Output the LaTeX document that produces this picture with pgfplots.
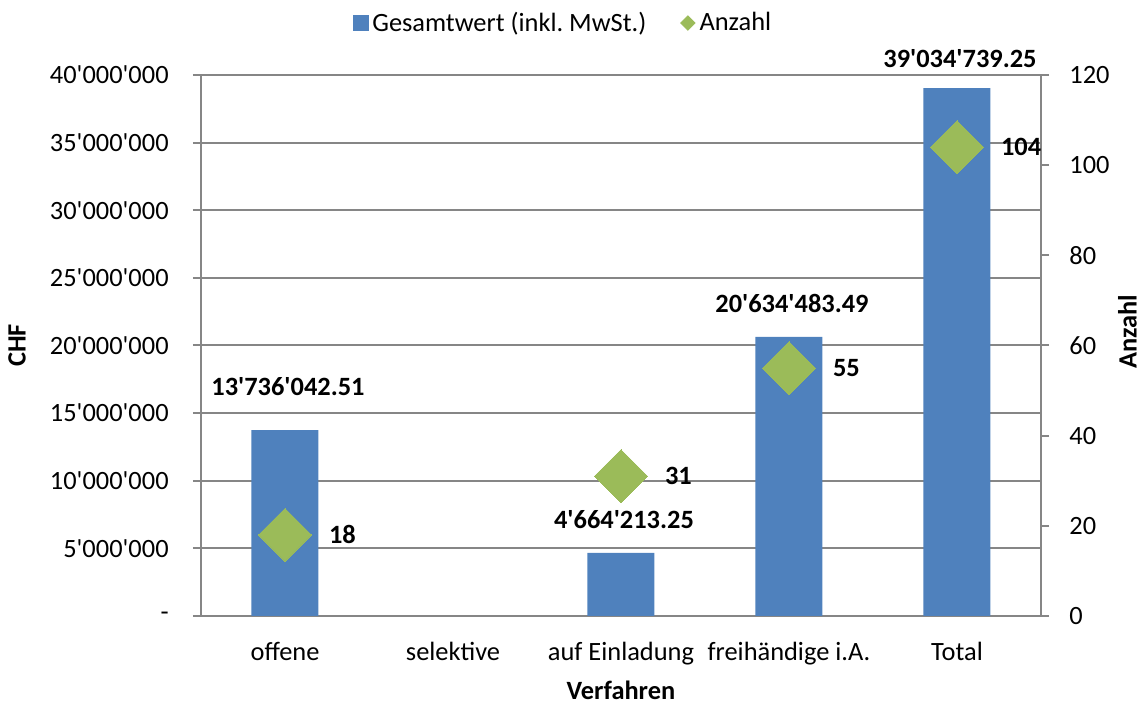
\documentclass[border=0pt]{standalone}
\usepackage{pgfplots}
\pgfplotsset{compat=1.18}
\usepackage{fontspec}
\setmainfont{Carlito}[Ligatures=TeXOff]
\definecolor{barblue}{HTML}{4F81BD}
\definecolor{dgreen}{HTML}{9BBB59}
\definecolor{axgray}{HTML}{868686}
\newcommand{\fs}{\fontsize{13.2}{15.5}\selectfont}
\frenchspacing
\begin{document}
\begin{tikzpicture}
\useasboundingbox (-100.5pt,-44pt) rectangle (473pt,308pt);
\begin{axis}[
  scale only axis, width=420pt, height=270.5pt,
  xmin=-0.5, xmax=4.5, ymin=0, ymax=40000000,
  axis x line*=bottom, axis y line*=left,
  axis line style={axgray, line width=1pt, -},
  xtick={0,1,2,3,4},
  xticklabels={offene,selektive,auf Einladung,freihändige i.A.,Total},
  xtick style={draw=none},
  xticklabel style={font=\fs, anchor=north, inner sep=0pt, yshift=-9pt},
  ytick={0,5000000,10000000,15000000,20000000,25000000,30000000,35000000,40000000},
  yticklabels={-,5'000'000,10'000'000,15'000'000,20'000'000,25'000'000,30'000'000,35'000'000,40'000'000},
  scaled y ticks=false,
  yticklabel style={font=\fs, anchor=east, inner sep=0pt, xshift=-12pt},
  ymajorgrids, grid style={axgray, line width=1pt},
  tick align=outside, major tick length=4pt,
  ytick style={axgray, line width=1pt},
  xlabel={Verfahren}, ylabel={CHF},
  xlabel style={font=\fs\bfseries, at={(rel axis cs:0.5,-0.137)}, anchor=center},
  ylabel style={font=\fs\bfseries, at={(rel axis cs:-0.219,0.5)}, anchor=center, rotate=0},
]
\addplot[ybar, bar width=33.5pt, fill=barblue, draw=none,
  nodes near coords, point meta=explicit symbolic,
  visualization depends on={value \thisrow{dy} \as \dy},
  nodes near coords style={font=\fs\bfseries, anchor=south, inner sep=0pt, yshift=\dy pt, xshift=1.5pt, text=black}]
  table[x=x, y=y, meta=lab] {
x y lab dy
0 13736042.51 13'736'042.51 16.9
2 4664213.25 4'664'213.25 11.75
3 20634483.49 20'634'483.49 11.75
4 39034739.25 39'034'739.25 9.75
};
\end{axis}
\begin{axis}[
  scale only axis, width=420pt, height=270.5pt,
  xmin=-0.5, xmax=4.5, ymin=0, ymax=120,
  axis y line*=right, axis x line=none,
  axis line style={axgray, line width=1pt, -},
  ytick={0,20,40,60,80,100,120},
  yticklabels={0,20,40,60,80,100,120},
  yticklabel style={font=\fs, anchor=west, inner sep=0pt, xshift=10pt},
  tick align=outside, major tick length=4pt,
  ytick style={axgray, line width=1pt},
  ylabel={Anzahl},
  ylabel style={font=\fs\bfseries, at={(rel axis cs:1.103,0.525)}, anchor=center},
  legend style={at={(0.432,1.096)}, anchor=center, draw=none, fill=none,
    font=\fs, legend columns=2, cells={anchor=west},
    /tikz/every even column/.append style={column sep=15pt}},
]
\addlegendimage{legend image code/.code={\fill[barblue] (0pt,-3.75pt) rectangle (7.5pt,3.75pt);}}
\addlegendentry{Gesamtwert (inkl.\ MwSt.)}
\addlegendimage{legend image code/.code={\fill[dgreen] (0pt,0pt) -- (3.6pt,3.6pt) -- (7.2pt,0pt) -- (3.6pt,-3.6pt) -- cycle;}}
\addlegendentry{Anzahl}
\addplot[only marks, color=dgreen, mark=square*, mark size=9.37pt,
  mark options={solid, rotate=45, fill=dgreen, draw=dgreen, line width=0pt},
  nodes near coords, point meta=explicit symbolic,
  nodes near coords style={font=\fs\bfseries, anchor=west, inner sep=0pt, xshift=22pt, text=black}]
  table[x=x, y=y, meta=lab] {
x y lab
0 18 18
2 31 31
3 55 55
4 104 104
};
\end{axis}
\end{tikzpicture}
\end{document}
